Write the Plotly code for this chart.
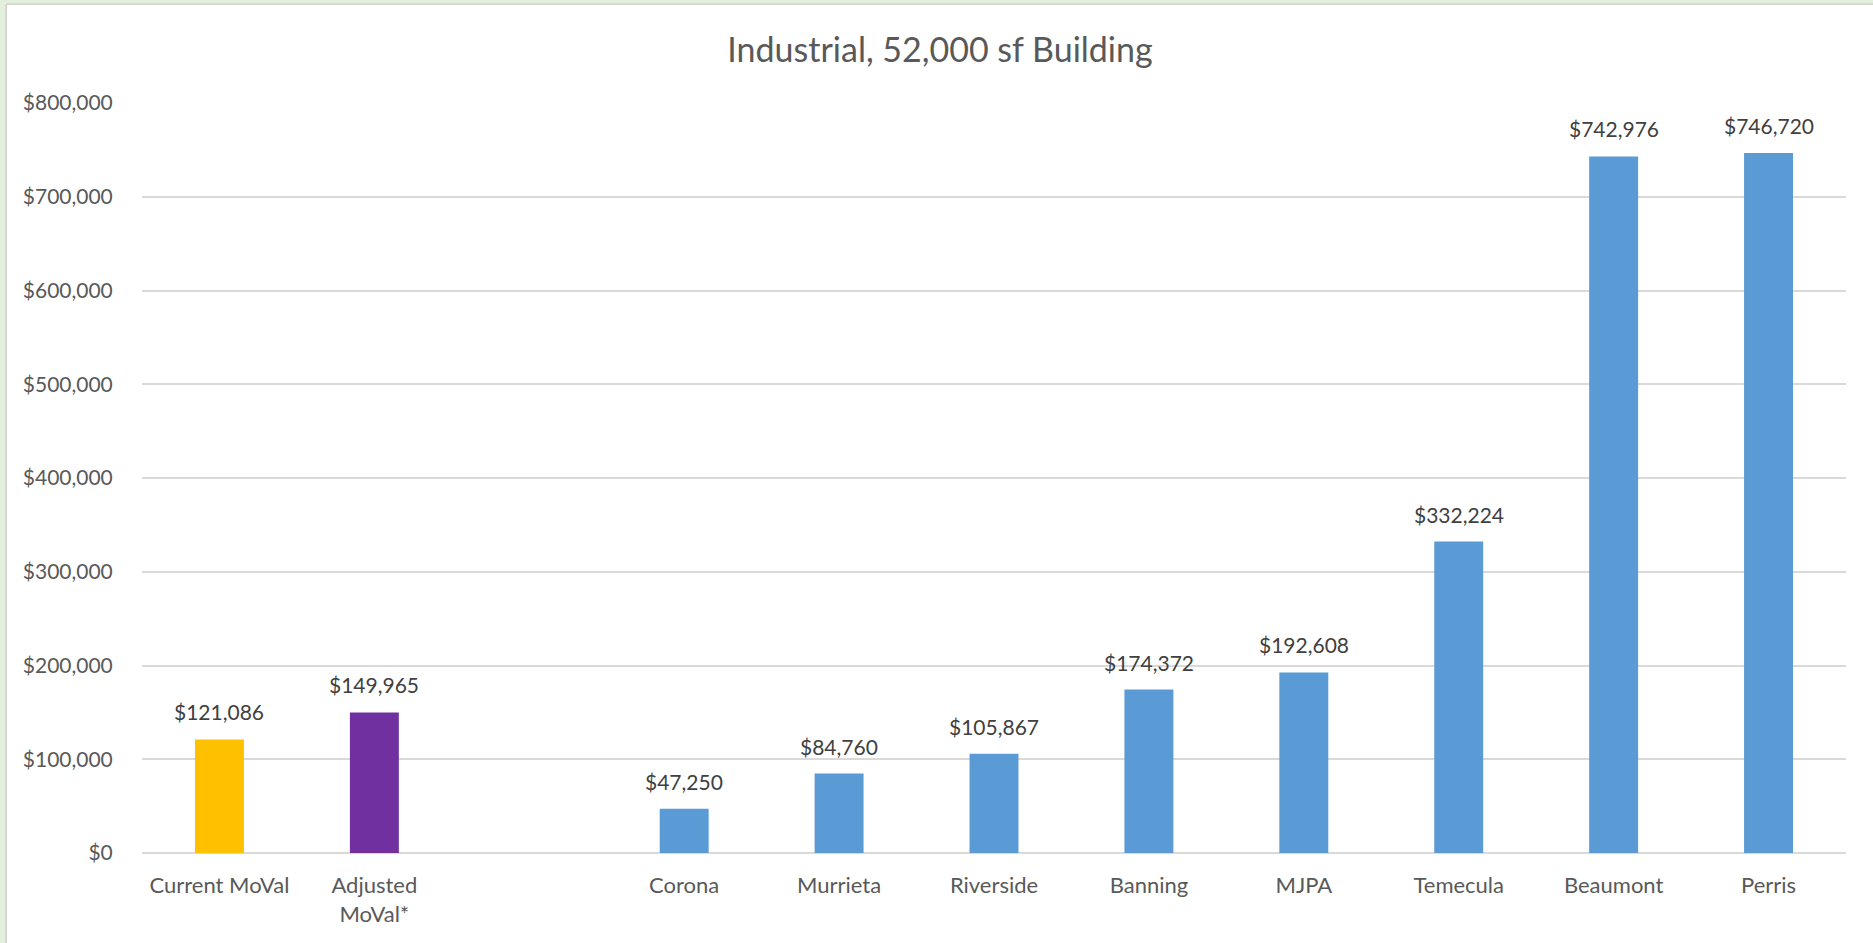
import plotly.graph_objects as go

# Fee comparison for an industrial building (52,000 sf)
categories = [
    "Current MoVal", "Adjusted<br>MoVal*", " ",
    "Corona", "Murrieta", "Riverside", "Banning",
    "MJPA", "Temecula", "Beaumont", "Perris",
]
fees = [121086, 149965, None, 47250, 84760, 105867, 174372, 192608, 332224, 742976, 746720]
bar_colors = ["#FFC000", "#7030A0", "#5B9BD5", "#5B9BD5", "#5B9BD5", "#5B9BD5",
              "#5B9BD5", "#5B9BD5", "#5B9BD5", "#5B9BD5", "#5B9BD5"]
y_ticks = [0, 100000, 200000, 300000, 400000, 500000, 600000, 700000, 800000]
y_tick_labels = ["$0", "$100,000", "$200,000", "$300,000", "$400,000",
                 "$500,000", "$600,000", "$700,000", "$800,000"]

FONT = "Lato"
W, H = 1873, 943
ML, MR, MT, MB = 142, 27, 103, 90
PW, PH = W - ML - MR, H - MT - MB


def px_x(px):
    return (px - ML) / PW


def px_y(py):
    return 1 - (py - MT) / PH


fig = go.Figure(
    go.Bar(
        x=categories,
        y=fees,
        marker=dict(color=bar_colors, line=dict(width=0)),
        hoverinfo="skip",
    )
)

# value labels above each bar
for cat, val in zip(categories, fees):
    if val is None:
        continue
    fig.add_annotation(
        x=cat, y=val, xref="x", yref="y",
        text=f"${val:,.0f}", showarrow=False,
        yanchor="bottom", yshift=13,
        font=dict(family=FONT, size=21, color="#404040"),
    )

# outer frame: pale green strip and grey chart-area border
frame = [
    dict(type="rect", x0=px_x(0), x1=px_x(5), y0=px_y(W), y1=px_y(0),
         fillcolor="#E2EFDA", line=dict(width=0)),
    dict(type="rect", x0=px_x(0), x1=px_x(W), y0=px_y(3), y1=px_y(0),
         fillcolor="#E2EFDA", line=dict(width=0)),
    dict(type="line", x0=px_x(6), x1=px_x(6), y0=px_y(4), y1=px_y(H + 5),
         line=dict(color="#D6D6D6", width=2)),
    dict(type="line", x0=px_x(6), x1=px_x(W + 5), y0=px_y(4), y1=px_y(4),
         line=dict(color="#D6D6D6", width=2)),
]
for s in frame:
    s.update(xref="paper", yref="paper", layer="below")
    fig.add_shape(**s)

fig.update_layout(
    width=W, height=H,
    margin=dict(l=ML, r=MR, t=MT, b=MB, pad=0),
    paper_bgcolor="white", plot_bgcolor="white",
    showlegend=False,
    bargap=0.684,
    title=dict(
        text="Industrial, 52,000 sf Building",
        x=(940) / W, xanchor="center",
        y=1 - 50 / H, yanchor="middle", yref="container",
        font=dict(family=FONT, size=34, color="#595959"),
    ),
    xaxis=dict(
        type="category",
        tickfont=dict(family=FONT, size=22, color="#595959"),
        ticks="outside", ticklen=13, tickcolor="rgba(0,0,0,0)",
        showgrid=False, showline=False, zeroline=False,
    ),
    yaxis=dict(
        range=[0, 800000],
        tickvals=y_ticks, ticktext=y_tick_labels,
        tickfont=dict(family=FONT, size=21, color="#595959"),
        ticks="outside", ticklen=24, tickcolor="rgba(0,0,0,0)",
        showgrid=True, gridcolor="#D9D9D9", gridwidth=1.5,
        zeroline=True, zerolinecolor="#D9D9D9", zerolinewidth=1.5,
        showline=False,
    ),
)

fig.write_html("out.html")
